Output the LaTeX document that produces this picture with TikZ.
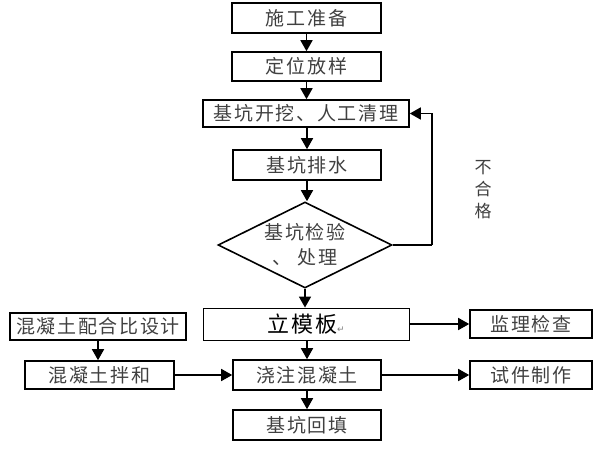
\documentclass[tikz,border=0pt]{standalone}
\usepackage{fontspec}
\newfontfamily\cjk{Noto Sans CJK SC}
\newfontfamily\cjkls[LetterSpace=9]{Noto Sans CJK SC}
\newfontfamily\dejavu{DejaVu Sans}
\usetikzlibrary{arrows.meta,shapes.geometric}
\begin{document}
\begin{tikzpicture}[x=1pt,y=-1pt,
  box/.style={draw,line width=1.6pt,rectangle,inner sep=0pt,
    font=\cjkls\fontsize{19}{20}\selectfont,text=black!75},
  thinbox/.style={draw,line width=0.9pt,rectangle,inner sep=0pt},
  ar/.style={line width=1.6pt,-{Triangle[width=12pt,length=11pt]}},
  ln/.style={line width=1.6pt}
]
\useasboundingbox (0,0) rectangle (600,450);
\node[box,minimum width=149pt,minimum height=30pt] (n1) at (306.5,18) {施工准备};
\node[box,minimum width=149pt,minimum height=29pt] (n2) at (306.5,66.5) {定位放样};
\node[box,minimum width=206pt,minimum height=27pt] (n3) at (306,113.5) {基坑开挖、人工清理};
\node[box,minimum width=148pt,minimum height=30pt] (n4) at (307,165) {基坑排水};
\node[diamond,draw,line width=1.6pt,aspect=2,inner sep=0pt,minimum width=174pt,minimum height=86pt,
  align=center,font=\cjkls\fontsize{19}{25}\selectfont,text=black!75] (d) at (305,245) {基坑检验\\、 处理};
\node[thinbox,minimum width=206pt,minimum height=32pt] (n5) at (306,324)
  {{\cjkls\fontsize{22}{24}\selectfont 立模板}{\dejavu\fontsize{9}{10}\selectfont\color{gray}↵}};
\node[box,minimum width=122pt,minimum height=28pt] (n6) at (531,324) {监理检查};
\node[box,minimum width=176pt,minimum height=27pt] (n7) at (98,326.5) {混凝土配合比设计};
\node[box,minimum width=149pt,minimum height=28pt] (n8) at (99.5,375) {混凝土拌和};
\node[box,minimum width=148pt,minimum height=30pt] (n9) at (307,375) {浇注混凝土};
\node[box,minimum width=122pt,minimum height=28pt] (n10) at (531,375) {试件制作};
\node[box,minimum width=148pt,minimum height=30pt] (n11) at (307,425) {基坑回填};
\node[align=center,font=\cjk\fontsize{17}{22}\selectfont,text=black!75] (ng) at (483,190) {不\\合\\格};
\coordinate (fb) at (432,245);
\draw[ar] (n1.south -| n2.north) -- (n2.north);
\draw[ar] (n2.south) -- (n2.south |- n3.north);
\draw[ar] (n3.south -| n4.north) -- (n4.north);
\draw[ar] (n4.south) -- (n4.south |- d.north);
\draw[ar] (d.south) -- (d.south |- n5.north);
\draw[ln] (d.east) -- (fb);
\draw[ar] (fb) |- (n3.east);
\draw[ar] (n5.east) -- (n5.east -| n6.west);
\draw[ar] (n7.south) -- (n7.south |- n8.north);
\draw[ar] (n8.east) -- (n8.east -| n9.west);
\draw[ar] (n9.east) -- (n9.east -| n10.west);
\draw[ar] (n5.south -| n9.north) -- (n9.north);
\draw[ar] (n9.south) -- (n9.south |- n11.north);
\end{tikzpicture}
\end{document}
